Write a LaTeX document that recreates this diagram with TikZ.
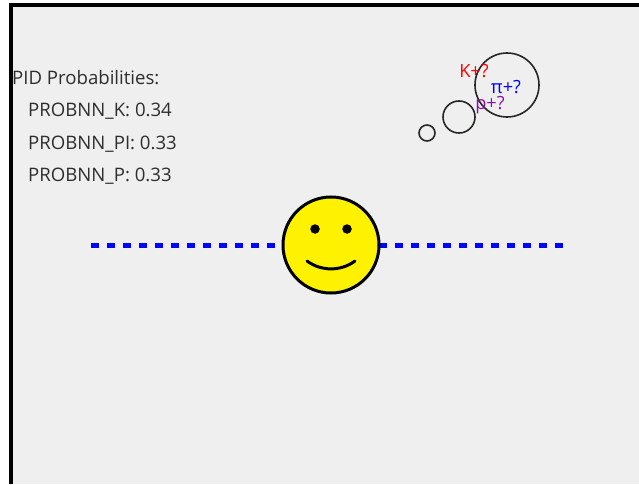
\documentclass[tikz,border=0pt]{standalone}
\usepackage{fontspec}
\setmainfont{Open Sans}
\definecolor{panel}{HTML}{EFEFEF}
\definecolor{pidpurple}{HTML}{8A10A8}
\definecolor{pidtext}{HTML}{2E2E2E}
\tikzset{
  x=1pt,y=-1pt,
  headstyle/.style={circle,draw=black,line width=3pt,fill=yellow,inner sep=0pt,minimum size=96pt},
  eyestyle/.style={circle,fill=black,inner sep=0pt,minimum size=9.5pt},
  bubble/.style={circle,draw=black!85,line width=1.6pt,inner sep=0pt},
  infotext/.style={anchor=base west,inner sep=0pt,text=pidtext,font=\fontsize{18.6}{20}\selectfont},
  guess/.style={anchor=center,inner sep=0pt,font=\fontsize{18.2}{20}\selectfont},
  track/.style={draw=blue,line width=5pt,dash pattern=on 8pt off 8pt},
}
\begin{document}
\begin{tikzpicture}
\useasboundingbox (0,0) rectangle (639,484);
\fill[white] (0,0) rectangle (639,484);
\fill[panel] (12,5) rectangle (639,484);
\draw[black,line width=3.2pt] (11,484) -- (11,5) -- (639,5);
\coordinate (trackstart) at (91,245);
\coordinate (trackend) at (563,245);
\draw[track] (trackstart) -- (trackend);
\node[headstyle] (head) at (331,245) {};
\node[eyestyle] (lefteye) at (315,229) {};
\node[eyestyle] (righteye) at (347,229) {};
\coordinate (smilestart) at (307,261);
\coordinate (smileend) at (355,261);
\draw[black,line width=3pt,line cap=round] (smilestart) .. controls (321,271.5) and (341,271.5) .. (smileend);
\node[bubble,minimum size=16pt] (bubblea) at (427,133) {};
\node[bubble,minimum size=32pt] (bubbleb) at (459,117) {};
\node[bubble,minimum size=64pt] (bubblec) at (507,85) {};
\node[guess,text=red] (kaon) at (474,71) {K+?};
\node[guess,text=blue] (pion) at (506,87) {π+?};
\node[guess,text=pidpurple] (proton) at (490,105) {p+?};
\node[infotext] (title) at (12,85) {PID Probabilities:};
\node[infotext] (probk) at (28,117) {PROBNN\_K: 0.34};
\node[infotext] (probpi) at (28,149) {PROBNN\_PI: 0.33};
\node[infotext] (probp) at (28,181) {PROBNN\_P: 0.33};
\end{tikzpicture}
\end{document}
